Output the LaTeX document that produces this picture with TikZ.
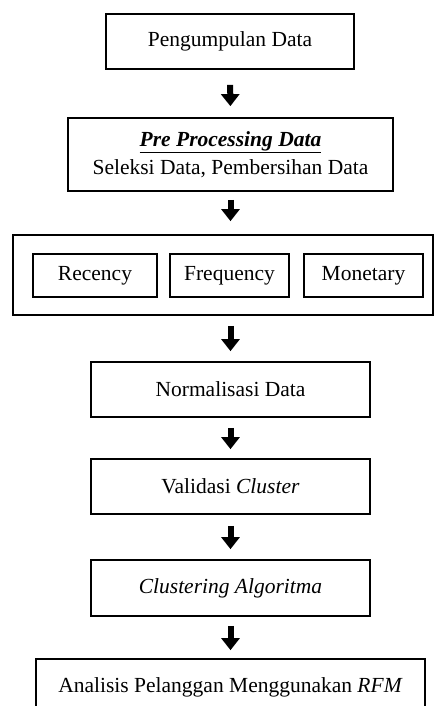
\documentclass[tikz,border=0pt]{standalone}
\usepackage{fontspec}
\setmainfont{Liberation Serif}
\usetikzlibrary{arrows.meta}
\begin{document}
\begin{tikzpicture}[x=1pt,y=1pt,
  box/.style={draw=black, line width=1.7pt, rectangle, inner sep=0pt, align=center,
    font=\fontsize{21.5}{28}\selectfont},
  blockarrow/.style={line width=6pt, -{Triangle[width=18pt,length=12pt]}}]
\useasboundingbox (0,0) rectangle (435,-706);
\node[box, minimum width=248, minimum height=55] (b1) at (230,-41.5) {Pengumpulan Data};
\node[box, minimum width=325, minimum height=73] (b2) at (230.5,-154.5)
  {\underline{\textbf{\textit{Pre Processing Data}}}\\Seleksi Data, Pembersihan Data};
\node[box, minimum width=420, minimum height=80] (b3) at (223,-275) {};
\node[box, minimum width=124, minimum height=43] (r) at (95,-275.5) {Recency};
\node[box, minimum width=119, minimum height=43] (f) at (229.5,-275.5) {Frequency};
\node[box, minimum width=119, minimum height=43] (m) at (363.5,-275.5) {Monetary};
\node[box, minimum width=279, minimum height=55] (b4) at (230.5,-389.5) {Normalisasi Data};
\node[box, minimum width=279, minimum height=55] (b5) at (230.5,-486.5) {Validasi \textit{Cluster}};
\node[box, minimum width=279, minimum height=56] (b6) at (230.5,-588) {\textit{Clustering Algoritma}};
\node[box, minimum width=389, minimum height=56] (b7) at (230.5,-687) {Analisis Pelanggan Menggunakan \textit{RFM}};
\draw[blockarrow, shorten <=15pt, shorten >=11pt] (b1.south) -- (b2.north);
\draw[blockarrow, shorten <=8pt, shorten >=13pt] (b2.south) -- (b2.south |- b3.north);
\draw[blockarrow, shorten <=10pt, shorten >=10pt] (b4.north |- b3.south) -- (b4.north);
\draw[blockarrow, shorten <=10pt, shorten >=9pt] (b4.south) -- (b5.north);
\draw[blockarrow, shorten <=11pt, shorten >=10pt] (b5.south) -- (b6.north);
\draw[blockarrow, shorten <=9pt, shorten >=8pt] (b6.south) -- (b7.north);
\end{tikzpicture}
\end{document}
